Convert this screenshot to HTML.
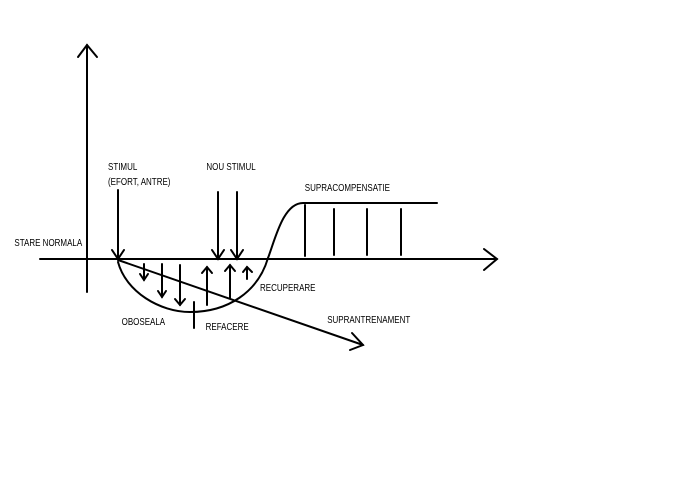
<!DOCTYPE html>
<html><head><style>
html,body{margin:0;padding:0;background:#fff;}
svg text{font-family:"Liberation Sans",sans-serif;font-size:10px;fill:#000;}
</style></head><body>
<svg width="696" height="473" viewBox="0 0 696 473" xmlns="http://www.w3.org/2000/svg">
<g stroke="#000" stroke-width="2" fill="none" stroke-linecap="round">
<line x1="40" y1="259" x2="497" y2="259"/>
<polyline points="484,249 497,259 484,270"/>
<line x1="87" y1="45" x2="87" y2="292"/>
<polyline points="78,57 87,45 97,57"/>
<line x1="118" y1="190" x2="118" y2="259"/>
<polyline points="112,250 118,259 124,250"/>
<line x1="218" y1="192" x2="218" y2="259"/>
<polyline points="212,250 218,259 224,250"/>
<line x1="237" y1="192" x2="237" y2="259"/>
<polyline points="231,250 237,259 243,250"/>
<path d="M118,262 C126,292 160,312 190,312 C228,312 258,292 268,258"/>
<path d="M268,258 C275,240 283,203 303,203 L437,203"/>
<line x1="305" y1="205" x2="305" y2="256"/>
<line x1="334" y1="209" x2="334" y2="255"/>
<line x1="367" y1="209" x2="367" y2="255"/>
<line x1="401" y1="209" x2="401" y2="255"/>
<line x1="144" y1="264" x2="144" y2="280"/><polyline points="140,274 144,280 148,274"/>
<line x1="162" y1="264" x2="162" y2="297"/><polyline points="158,291 162,297 166,291"/>
<line x1="180" y1="265" x2="180" y2="305"/><polyline points="175,299 180,305 185,299"/>
<line x1="207" y1="305" x2="207" y2="267"/><polyline points="202,273 207,267 212,273"/>
<line x1="230" y1="298" x2="230" y2="265"/><polyline points="225,271 230,265 235,271"/>
<line x1="247" y1="279" x2="247" y2="267"/><polyline points="243,272 247,267 252,272"/>
<line x1="194" y1="302" x2="194" y2="328"/>
<line x1="118" y1="260" x2="363" y2="345"/>
<polyline points="352,333 363,345 350,350"/>
</g>
<g transform="scale(0.8,1)">
<text x="135" y="170">STIMUL</text>
<text x="135" y="185">(EFORT, ANTRE)</text>
<text x="258" y="170">NOU STIMUL</text>
<text x="18" y="246">STARE NORMALA</text>
<text x="381" y="191">SUPRACOMPENSATIE</text>
<text x="325" y="291">RECUPERARE</text>
<text x="409" y="323">SUPRANTRENAMENT</text>
<text x="152" y="325">OBOSEALA</text>
<text x="257" y="330">REFACERE</text>
</g>
</svg>
</body></html>
